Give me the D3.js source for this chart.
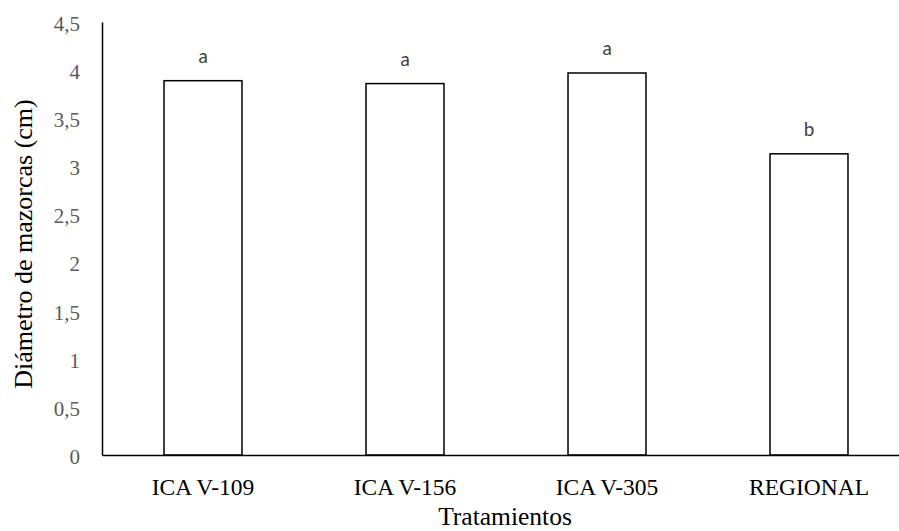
<!DOCTYPE html>
<html>
<head>
<meta charset="utf-8">
<script src="https://cdn.jsdelivr.net/npm/d3@7"></script>
<style>
  body { margin: 0; background: #fff; }
</style>
</head>
<body>
<div id="chart"></div>
<script>
const width = 899;
const height = 531;

const categories = ["ICA V-109", "ICA V-156", "ICA V-305", "REGIONAL"];
const values = [3.89, 3.86, 3.97, 3.13];
const groups = ["a", "a", "a", "b"];
const yTicks = [0, 0.5, 1, 1.5, 2, 2.5, 3, 3.5, 4, 4.5];

const margin = { left: 102, top: 22, bottom: 455 };
const serif = "'Liberation Serif', 'Times New Roman', serif";

const svg = d3.select("#chart").append("svg")
  .attr("width", width)
  .attr("height", height);

const x = d3.scaleBand()
  .domain(categories)
  .range([margin.left, margin.left + 808])
  .paddingInner(0.614)
  .paddingOuter(0.307);

const y = d3.scaleLinear()
  .domain([0, 4.5])
  .range([margin.bottom, margin.top]);

const fmt = d => String(d).replace(".", ",");

// y axis: line only, labels in grey serif
const yAxis = svg.append("g")
  .attr("transform", `translate(${margin.left},0)`)
  .call(d3.axisLeft(y).tickValues(yTicks).tickFormat(fmt).tickSize(0).tickPadding(22));
yAxis.select(".domain").attr("stroke", "#000").attr("stroke-width", 1.5);
yAxis.selectAll("text")
  .attr("font-family", serif)
  .attr("font-size", 21)
  .attr("dy", "0.4em")
  .attr("fill", "#595959");

// bars
svg.selectAll(".bar")
  .data(values)
  .enter().append("rect")
  .attr("class", "bar")
  .attr("x", (d, i) => x(categories[i]))
  .attr("y", d => y(d))
  .attr("width", x.bandwidth())
  .attr("height", d => y(0) - y(d))
  .attr("fill", "#fff")
  .attr("stroke", "#000")
  .attr("stroke-width", 1.5);

// significance letters
svg.selectAll(".grp")
  .data(values)
  .enter().append("text")
  .attr("class", "grp")
  .attr("x", (d, i) => x(categories[i]) + x.bandwidth() / 2)
  .attr("y", d => y(d) - 18)
  .attr("text-anchor", "middle")
  .attr("font-family", "Carlito, 'Open Sans', 'Liberation Sans', sans-serif")
  .attr("font-size", 20)
  .attr("fill", "#404040")
  .text((d, i) => groups[i]);

// x axis
const xAxis = svg.append("g")
  .attr("transform", `translate(0,${margin.bottom})`)
  .call(d3.axisBottom(x).tickSize(0).tickPadding(0));
xAxis.select(".domain").attr("stroke", "#000").attr("stroke-width", 1.5);
xAxis.selectAll("text")
  .attr("font-family", serif)
  .attr("font-size", 23.5)
  .attr("y", 40)
  .attr("dy", null)
  .attr("fill", "#000");

// axis titles
svg.append("text")
  .attr("x", 505)
  .attr("y", 525)
  .attr("text-anchor", "middle")
  .attr("font-family", serif)
  .attr("font-size", 25.5)
  .attr("fill", "#000")
  .text("Tratamientos");

svg.append("text")
  .attr("transform", `translate(32,244) rotate(-90)`)
  .attr("text-anchor", "middle")
  .attr("font-family", serif)
  .attr("font-size", 26)
  .attr("fill", "#000")
  .text("Diámetro de mazorcas (cm)");
</script>
</body>
</html>
